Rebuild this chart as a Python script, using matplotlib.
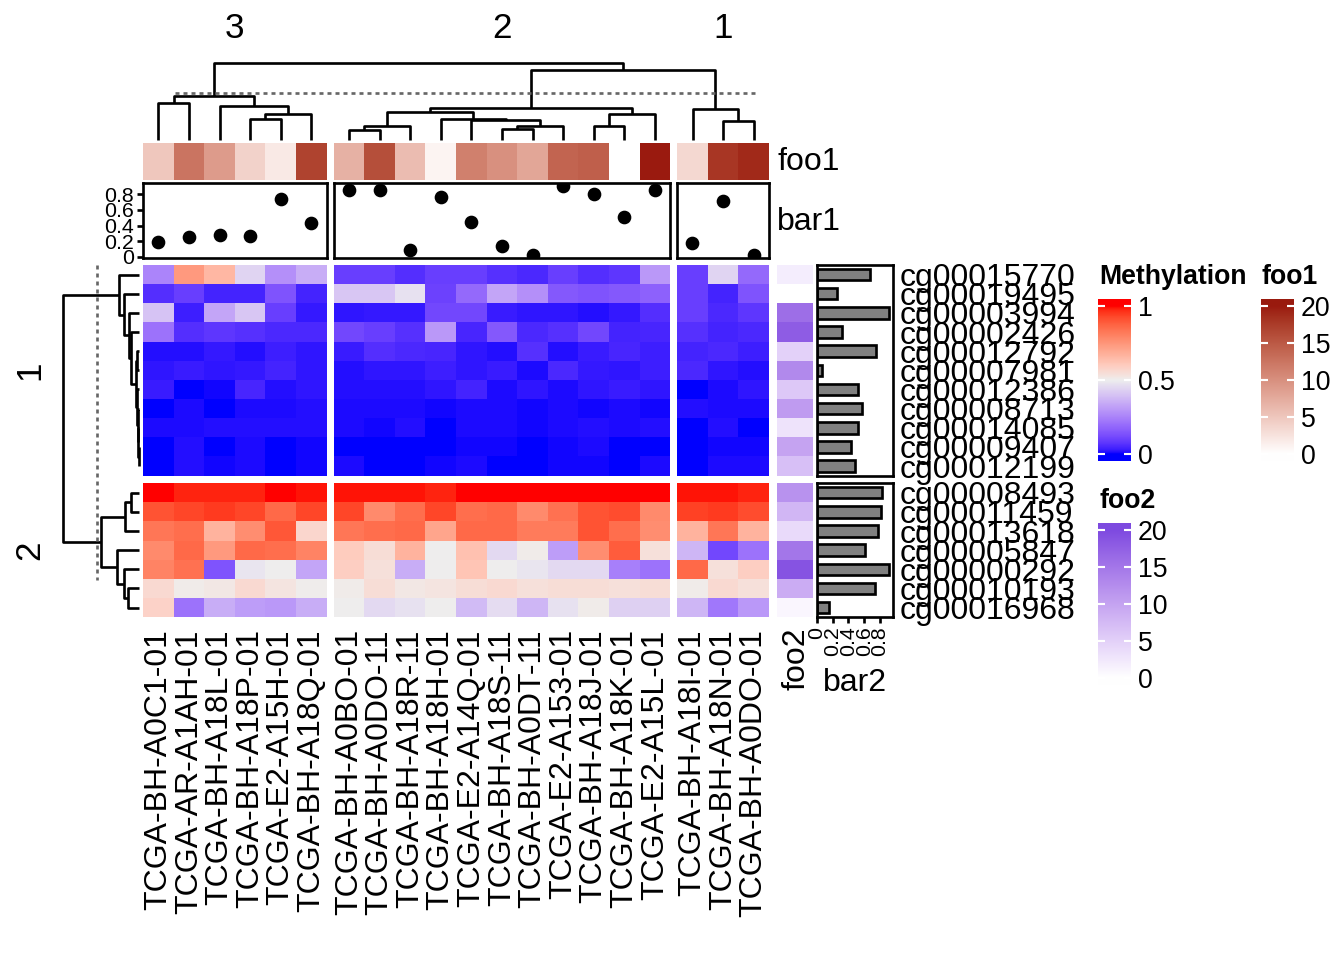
import numpy as np
import matplotlib.pyplot as plt
from matplotlib.colors import ListedColormap

plt.rcParams['font.family'] = ['Liberation Sans', 'DejaVu Sans']

# ---- data ----
samples = ['TCGA-BH-A0C1-01', 'TCGA-AR-A1AH-01', 'TCGA-BH-A18L-01', 'TCGA-BH-A18P-01',
           'TCGA-E2-A15H-01', 'TCGA-BH-A18Q-01',
           'TCGA-BH-A0BO-01', 'TCGA-BH-A0DO-11', 'TCGA-BH-A18R-11', 'TCGA-BH-A18H-01',
           'TCGA-E2-A14Q-01', 'TCGA-BH-A18S-11', 'TCGA-BH-A0DT-11', 'TCGA-E2-A153-01',
           'TCGA-BH-A18J-01', 'TCGA-BH-A18K-01', 'TCGA-E2-A15L-01',
           'TCGA-BH-A18I-01', 'TCGA-BH-A18N-01', 'TCGA-BH-A0DO-01']
probes = ['cg00015770', 'cg00019495', 'cg00003994', 'cg00002426', 'cg00012792', 'cg00007981',
          'cg00012386', 'cg00008713', 'cg00014085', 'cg00009407', 'cg00012199',
          'cg00008493', 'cg00011459', 'cg00013618', 'cg00005847', 'cg00000292',
          'cg00010193', 'cg00016968']
col_split = [6, 11, 3]
row_split = [11, 7]
col_titles = ['3', '2', '1']
row_titles = ['1', '2']

methylation = np.array([
    [.25, .74, .66, .44, .28, .35,  .09, .09, .06, .09, .09, .065, .05, .09, .06, .075, .30,  .09, .44, .19],
    [.06, .09, .04, .04, .14, .04,  .41, .41, .47, .10, .19, .33, .28, .15, .14, .15, .17,  .09, .04, .14],
    [.40, .035, .33, .41, .09, .025,  .02, .025, .025, .11, .11, .03, .02, .02, .015, .025, .06,  .09, .05, .075],
    [.21, .06, .075, .065, .05, .05,  .11, .09, .065, .30, .045, .15, .05, .065, .11, .04, .045,  .065, .04, .05],
    [.015, .015, .025, .012, .035, .02,  .03, .06, .05, .045, .02, .012, .065, .012, .03, .045, .035,  .04, .05, .035],
    [.02, .03, .02, .025, .04, .02,  .015, .02, .02, .035, .02, .03, .01, .05, .025, .02, .035,  .05, .02, .015],
    [.03, 0, .005, .045, .012, .02,  .015, .015, .012, .02, .04, .008, .02, .01, .02, .03, .02,  0, .01, .02],
    [0, .008, 0, .01, .01, .015,  .008, .01, .01, .004, .008, .01, .004, .008, .004, .01, .004,  .015, .01, .01],
    [.01, .01, .015, .012, .012, .015,  .01, .004, .012, 0, .008, .008, .004, .008, .012, .008, .015,  0, .012, 0],
    [0, .012, 0, .008, 0, .004,  0, 0, 0, .003, .004, .004, 0, .004, .008, 0, 0,  0, .004, .004],
    [0, .012, .004, .008, 0, .004,  .008, 0, 0, .004, .008, 0, 0, .004, .004, 0, .008,  0, .008, .008],
    [1, .98, .98, .98, 1, .99,  .99, .99, .99, .98, 1, 1, 1, 1, 1, 1, 1,  .99, .99, .98],
    [.91, .93, .95, .93, .86, .93,  .93, .78, .85, .93, .85, .86, .78, .84, .91, .92, .78,  .94, .95, .92],
    [.83, .85, .67, .77, .90, .57,  .83, .85, .86, .71, .86, .86, .82, .82, .91, .85, .77,  .67, .83, .67],
    [.78, .86, .74, .86, .85, .80,  .60, .55, .67, .50, .63, .45, .51, .31, .77, .89, .54,  .37, .11, .21],
    [.80, .84, .14, .48, .50, .33,  .59, .54, .35, .50, .62, .50, .48, .45, .45, .24, .21,  .86, .54, .59],
    [.56, .51, .52, .56, .53, .505,  .51, .55, .52, .53, .55, .56, .54, .55, .55, .54, .55,  .51, .56, .54],
    [.58, .21, .35, .31, .30, .35,  .50, .45, .47, .50, .38, .46, .37, .47, .51, .43, .43,  .37, .22, .30],
])

foo1 = [5, 12.5, 9, 4, 2, 17,  7, 16, 6, 1, 11.5, 10, 8, 14, 14.5, 0, 20,  3.5, 18, 19]
bar1 = [0.185, 0.25, 0.28, 0.27, 0.74, 0.43,  0.86, 0.85, 0.09, 0.77, 0.45, 0.14, 0.03, 0.90, 0.80,
        0.51, 0.86,  0.18, 0.72, 0.03]
foo2 = [2, 0, 16, 18, 5, 13, 6, 11, 3, 10, 7,  12, 8, 4, 15, 19, 9, 1]
bar2 = [0.67, 0.25, 0.91, 0.32, 0.75, 0.06, 0.52, 0.57, 0.52, 0.43, 0.48,
        0.83, 0.81, 0.77, 0.61, 0.92, 0.74, 0.15]

# merges (child a, child b, height); leaves are 0..n-1 in display order
col_merge = [(3, 4, 20.7), (20, 5, 25.3), (2, 21, 33.3), (0, 1, 36.7), (23, 22, 43.3),
             (6, 7, 10), (25, 8, 14.3), (11, 12, 11), (27, 13, 14.3), (10, 28, 19.3),
             (9, 29, 20.3), (26, 30, 27.7), (14, 15, 14.3), (32, 16, 25.3), (31, 33, 32),
             (18, 19, 18.3), (17, 35, 30.7), (34, 36, 68.7), (24, 37, 76)]
row_merge = [(9, 10, 0.7), (8, 18, 1.0), (7, 19, 1.5), (6, 20, 2.5), (4, 5, 2.0), (22, 21, 3.5),
             (3, 23, 8.3), (2, 24, 10), (1, 25, 15), (0, 26, 20),
             (11, 12, 8.7), (28, 13, 14.3), (16, 17, 11), (15, 30, 15.3), (14, 31, 22),
             (29, 32, 38.3), (27, 33, 76.7)]
col_cut = 46.7
row_cut = 42.0


# ---- colour ramps interpolated in LAB space ----
M = np.array([[0.4124564, 0.3575761, 0.1804375],
              [0.2126729, 0.7151522, 0.0721750],
              [0.0193339, 0.1191920, 0.9503041]])
WHITE = np.array([0.95047, 1.0, 1.08883])


def to_lab(hexcol):
    rgb = np.array([int(hexcol[i:i + 2], 16) for i in (1, 3, 5)]) / 255
    lin = np.where(rgb <= 0.04045, rgb / 12.92, ((rgb + 0.055) / 1.055) ** 2.4)
    xyz = M @ lin / WHITE
    f = np.where(xyz > 0.008856, np.cbrt(xyz), 7.787 * xyz + 16 / 116)
    return np.array([116 * f[1] - 16, 500 * (f[0] - f[1]), 200 * (f[1] - f[2])])


def from_lab(lab):
    fy = (lab[:, 0] + 16) / 116
    f = np.stack([fy + lab[:, 1] / 500, fy, fy - lab[:, 2] / 200], axis=1)
    xyz = np.where(f ** 3 > 0.008856, f ** 3, (f - 16 / 116) / 7.787) * WHITE
    lin = np.clip(xyz @ np.linalg.inv(M).T, 0, 1)
    rgb = np.where(lin <= 0.0031308, 12.92 * lin, 1.055 * lin ** (1 / 2.4) - 0.055)
    return np.clip(rgb, 0, 1)


def lab_cmap(stops, colors, n=256):
    t = np.linspace(stops[0], stops[-1], n)
    labs = np.array([to_lab(c) for c in colors])
    lab = np.stack([np.interp(t, stops, labs[:, k]) for k in range(3)], axis=1)
    return ListedColormap(from_lab(lab))


meth_cmap = lab_cmap([0, 0.5, 1], ['#0000FF', '#EEEEEE', '#FF0000'])
foo1_cmap = lab_cmap([0, 20], ['#FFFFFF', '#9A1A0F'])
foo2_cmap = lab_cmap([0, 20], ['#FFFFFF', '#7E4AE0'])

# ---- layout (pixels) ----
W, H = 1344, 960
fig = plt.figure(figsize=(7, 5), dpi=192)


def add_ax(x0, y0, x1, y1):
    return fig.add_axes([x0 / W, 1 - y1 / H, (x1 - x0) / W, (y1 - y0) / H])


def spans(start, size, gap, counts):
    out, pos = [], start
    for n in counts:
        out.append((pos, pos + n * size))
        pos += n * size + gap
    return out


cw, rh = 30.6, 19.15
col_spans = spans(143, cw, 7, col_split)
row_spans = spans(265, rh, 7.5, row_split)
col_idx = np.split(np.arange(len(samples)), np.cumsum(col_split)[:-1])
row_idx = np.split(np.arange(len(probes)), np.cumsum(row_split)[:-1])
LW = 1.0

# heatmap body
for ri, (y0, y1) in enumerate(row_spans):
    for ci, (x0, x1) in enumerate(col_spans):
        ax = add_ax(x0, y0, x1, y1)
        ax.pcolormesh(methylation[np.ix_(row_idx[ri], col_idx[ci])], cmap=meth_cmap, vmin=0, vmax=1)
        ax.set_xlim(0, len(col_idx[ci]))
        ax.set_ylim(len(row_idx[ri]), 0)
        ax.set_yticks([])
        for s in ax.spines.values():
            s.set_visible(False)
        if ri == len(row_spans) - 1:
            ax.set_xticks(np.arange(len(col_idx[ci])) + 0.5)
            ax.set_xticklabels([samples[i] for i in col_idx[ci]], rotation=90, fontsize=12)
            ax.tick_params(axis='x', length=0, pad=4.5)
        else:
            ax.set_xticks([])


def draw_dendro(ax, merges, leaf_pos, top):
    n = len(leaf_pos)
    pos = {i: (p, 0.0) for i, p in enumerate(leaf_pos)}
    for k, (a, b, h) in enumerate(merges):
        pa, ha = pos[a]
        pb, hb = pos[b]
        xs, hs = [pa, pa, pb, pb], [ha, h, h, hb]
        if top:
            ax.plot(xs, hs, color='black', lw=LW, clip_on=False, solid_capstyle='butt')
        else:
            ax.plot(hs, xs, color='black', lw=LW, clip_on=False, solid_capstyle='butt')
        pos[n + k] = ((pa + pb) / 2, h)


col_leaf = np.concatenate([x0 + cw * (np.arange(n) + 0.5) for (x0, _), n in zip(col_spans, col_split)])
row_leaf = np.concatenate([y0 + rh * (np.arange(n) + 0.5) for (y0, _), n in zip(row_spans, row_split)])

ax = add_ax(143, 63, 769, 140)
draw_dendro(ax, col_merge, col_leaf, True)
ax.hlines(col_cut, 175, 755, color='#666666', lw=LW, linestyles=(0, (1.5, 1.5)))
ax.set_xlim(143, 769)
ax.set_ylim(0, col_merge[-1][2])
ax.axis('off')

ax = add_ax(62.7, 265, 139.3, row_spans[-1][1])
draw_dendro(ax, row_merge, row_leaf, False)
ax.vlines(row_cut, 265, 580, color='#666666', lw=LW, linestyles=(0, (1.5, 1.5)))
ax.set_xlim(row_merge[-1][2], 0)
ax.set_ylim(row_spans[-1][1], 265)
ax.axis('off')

# column annotations
lo1, hi1 = min(bar1), max(bar1)
pad1 = 0.05 * (hi1 - lo1)
for ci, (x0, x1) in enumerate(col_spans):
    idx = col_idx[ci]
    ax = add_ax(x0, 143, x1, 180)
    ax.pcolormesh(np.array([foo1[i] for i in idx])[None, :], cmap=foo1_cmap, vmin=0, vmax=20)
    ax.axis('off')

    ax = add_ax(x0, 183, x1, 258)
    ax.scatter(np.arange(len(idx)) + 0.5, [bar1[i] for i in idx], s=17, color='black', zorder=3)
    ax.set_xlim(0, len(idx))
    ax.set_ylim(lo1 - pad1, hi1 + pad1)
    ax.set_xticks([])
    for s in ax.spines.values():
        s.set_linewidth(LW)
    if ci == 0:
        ax.set_yticks([0, 0.2, 0.4, 0.6, 0.8])
        ax.set_yticklabels(['0', '0.2', '0.4', '0.6', '0.8'], fontsize=8)
        ax.tick_params(axis='y', length=2.3, width=LW, pad=1.2)
    else:
        ax.set_yticks([])

# row annotations
hi2 = max(bar2) * 1.05
for ri, (y0, y1) in enumerate(row_spans):
    idx = row_idx[ri]
    ax = add_ax(777, y0, 813, y1)
    ax.pcolormesh(np.array([foo2[i] for i in idx])[:, None], cmap=foo2_cmap, vmin=0, vmax=20)
    ax.set_ylim(len(idx), 0)
    ax.axis('off')

    ax = add_ax(817, y0, 893, y1)
    ax.barh(np.arange(len(idx)) + 0.5, [bar2[i] for i in idx], height=0.6,
            color='#808080', edgecolor='black', linewidth=LW)
    ax.set_ylim(len(idx), 0)
    ax.set_xlim(0, hi2)
    for s in ax.spines.values():
        s.set_linewidth(LW)
    ax.yaxis.tick_right()
    ax.set_yticks(np.arange(len(idx)) + 0.5)
    ax.set_yticklabels([probes[i] for i in idx], fontsize=12)
    ax.tick_params(axis='y', length=0, pad=2.6)
    if ri == len(row_spans) - 1:
        ax.set_xticks([0, 0.2, 0.4, 0.6, 0.8])
        ax.set_xticklabels(['0', '0.2', '0.4', '0.6', '0.8'], fontsize=8, rotation=90)
        ax.tick_params(axis='x', length=2.3, width=LW, pad=1.2)
    else:
        ax.set_xticks([])

# annotation names and titles
fig.text(777 / W, 1 - 162.5 / H, 'foo1', fontsize=12, va='center', ha='left')
fig.text(777 / W, 1 - 221.5 / H, 'bar1', fontsize=12, va='center', ha='left')
fig.text(797 / W, 1 - 627 / H, 'foo2', fontsize=12, va='top', ha='center', rotation=90)
fig.text(855 / W, 1 - 683 / H, 'bar2', fontsize=12, va='center', ha='center')
for t, (x0, x1) in zip(col_titles, col_spans):
    fig.text((x0 + x1) / 2 / W, 1 - 28 / H, t, fontsize=13.2, ha='center', va='center')
for t, (y0, y1) in zip(row_titles, row_spans):
    fig.text(30 / W, 1 - (y0 + y1) / 2 / H, t, fontsize=13.2, ha='center', va='center', rotation=90)


# legends
def legend_bar(x0, y0, x1, y1, cmap, lo, hi, ticks, labels, title):
    ax = add_ax(x0, y0, x1, y1)
    pad = 0.045 * (hi - lo)
    ax.imshow(np.linspace(lo - pad, hi + pad, 256)[:, None], aspect='auto', cmap=cmap,
              vmin=lo, vmax=hi, origin='lower', extent=(0, 1, lo - pad, hi + pad))
    ax.hlines(ticks, 0, 0.2, color='white', lw=0.8)
    ax.hlines(ticks, 0.8, 1, color='white', lw=0.8)
    ax.set_xlim(0, 1)
    ax.set_ylim(lo - pad, hi + pad)
    ax.set_xticks([])
    ax.yaxis.tick_right()
    ax.set_yticks(ticks)
    ax.set_yticklabels(labels, fontsize=10)
    ax.tick_params(axis='y', length=0, pad=2.6)
    for s in ax.spines.values():
        s.set_visible(False)
    fig.text((x0 + 1) / W, 1 - (y0 - 22) / H, title, fontsize=10, fontweight='bold',
             ha='left', va='center')


legend_bar(1098, 299, 1131, 461, meth_cmap, 0, 1, [0, 0.5, 1], ['0', '0.5', '1'], 'Methylation')
legend_bar(1261, 299, 1294, 461, foo1_cmap, 0, 20, [0, 5, 10, 15, 20],
           ['0', '5', '10', '15', '20'], 'foo1')
legend_bar(1098, 523, 1131, 685, foo2_cmap, 0, 20, [0, 5, 10, 15, 20],
           ['0', '5', '10', '15', '20'], 'foo2')

fig.savefig('out.png', dpi=192)
